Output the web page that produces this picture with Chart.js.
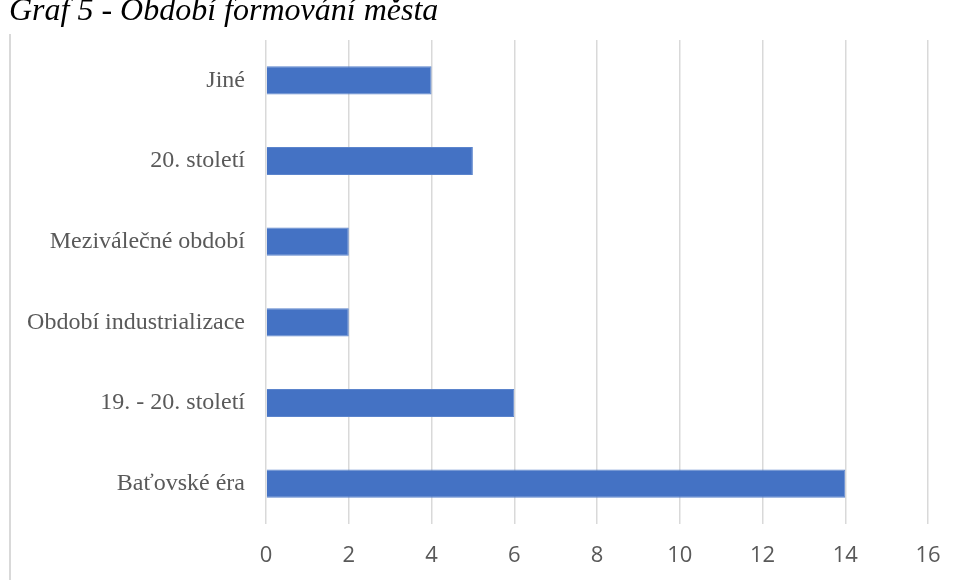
<!DOCTYPE html>
<html>
<head>
<meta charset="utf-8">
<script src="https://cdn.jsdelivr.net/npm/chart.js@4"></script>
<style>
  html, body { margin: 0; padding: 0; background: #fff; overflow: hidden; }
  #wrap { position: relative; width: 961px; height: 580px; }
  #title {
    position: absolute; left: 9px; top: -9px;
    font-family: "Liberation Serif", "Times New Roman", serif;
    font-style: italic; font-size: 32px; color: #000; white-space: nowrap;
  }
  #frame {
    position: absolute; left: 9px; top: 34px; width: 0; height: 560px;
    border-left: 2px solid #d9d9d9;
  }
  #chartBox { position: absolute; left: 0; top: 0; width: 961px; height: 580px; }
</style>
</head>
<body>
<div id="wrap">
  <div id="frame"></div>
  <div id="chartBox"><canvas id="chart"></canvas></div>
  <div id="title">Graf 5 - Období formování města</div>
</div>
<script>
// categories, top to bottom
const categories = ['Jiné', '20. století', 'Meziválečné období', 'Období industrializace', '19. - 20. století', 'Baťovské éra'];
// number of answers per period
const counts = [4, 5, 2, 2, 6, 14];
// x axis range
const xMin = 0;
const xMax = 16;
const xStep = 2;

const ctx = document.getElementById('chart');
new Chart(ctx, {
    type: 'bar',
    data: {
        labels: categories,
        datasets: [{
            data: counts,
            backgroundColor: '#4472C4',
            borderColor: '#5b84cc',
            borderWidth: 1,
            categoryPercentage: 1,
            barPercentage: 0.35
        }]
    },
    options: {
        indexAxis: 'y',
        responsive: true,
        maintainAspectRatio: false,
        animation: false,
        layout: { padding: { top: 40, right: 33, left: 0, bottom: 0 } },
        plugins: {
            legend: { display: false },
            tooltip: { enabled: false }
        },
        scales: {
            x: {
                min: xMin,
                max: xMax,
                afterFit: (scale) => { scale.height = 56; },
                border: { display: false },
                grid: { color: '#d9d9d9', lineWidth: 1.5, drawTicks: false },
                ticks: {
                    stepSize: xStep,
                    padding: 19,
                    color: '#595959',
                    font: { family: '"Open Sans", sans-serif', size: 22 }
                }
            },
            y: {
                afterFit: (scale) => { scale.width = 266; },
                border: { display: false },
                grid: { display: false, drawTicks: false },
                ticks: {
                    padding: 21,
                    color: '#595959',
                    font: { family: '"Liberation Serif", "Times New Roman", serif', size: 24 }
                }
            }
        }
    }
});
</script>
</body>
</html>
